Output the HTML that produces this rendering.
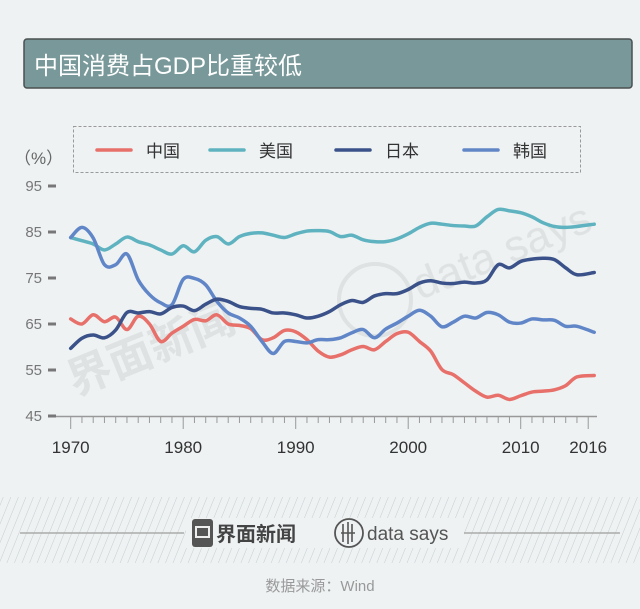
<!DOCTYPE html>
<html><head><meta charset="utf-8"><style>
body{margin:0;background:#eef2f3;}
svg{display:block;font-family:"Liberation Sans","Noto Sans CJK SC",sans-serif;}
</style></head><body>
<svg width="640" height="609" viewBox="0 0 640 609">
<defs>
<pattern id="hatch" width="7" height="8" patternUnits="userSpaceOnUse" patternTransform="rotate(22)">
<line x1="0" y1="0" x2="0" y2="8" stroke="#c6ccce" stroke-width="1"/>
</pattern>
</defs>
<rect width="640" height="609" fill="#eef2f3"/>
<rect x="24" y="39" width="608" height="49" rx="3" fill="#789899" stroke="#4a4f50" stroke-width="1.5"/>
<text x="34" y="74" font-size="24" fill="#fff">中国消费占GDP比重较低</text>
<text x="14" y="164" font-size="17" fill="#666">（%）</text>
<rect x="73.5" y="126.5" width="507" height="46" fill="none" stroke="#999" stroke-dasharray="3,2"/>
<g id="legend"></g>
<g opacity="0.75">
<text x="75" y="396" font-size="44" font-weight="bold" fill="#d8dcdd" transform="rotate(-22 75 396)">界面新闻</text>
<circle cx="375" cy="300" r="36" fill="none" stroke="#d8dcdd" stroke-width="4"/>
<text x="420" y="300" font-size="44" fill="#d8dcdd" transform="rotate(-22 420 300)">data says</text>
</g>
<g id="axes"></g>
<g id="lines"></g>
<rect x="0" y="497" width="640" height="66" fill="url(#hatch)"/>
<line x1="20" y1="533" x2="184" y2="533" stroke="#aaa" stroke-width="1.5"/>
<line x1="464" y1="533" x2="620" y2="533" stroke="#aaa" stroke-width="1.5"/>
<rect x="186" y="518" width="70" height="30" fill="#eef2f3"/>
<rect x="192" y="519" width="21" height="28" rx="3" fill="#555"/>
<rect x="196" y="527" width="13" height="10" fill="none" stroke="#eee" stroke-width="2"/>
<rect x="214" y="518" width="250" height="30" fill="#eef2f3"/>
<text x="216" y="541" font-size="20" font-weight="bold" fill="#444">界面新闻</text>
<circle cx="349" cy="533" r="14" fill="none" stroke="#555" stroke-width="1.8"/>
<path d="M343 524v18M348 522v22M352 524v18M341 533h14" stroke="#555" stroke-width="1.6"/>
<text x="367" y="540" font-size="19" fill="#555">data says</text>
<text x="320" y="591" font-size="15" fill="#999" text-anchor="middle">数据来源：Wind</text>
</svg>
<script>
const years=[];for(let y=1970;y<=2016;y++)years.push(y);
const seriesNames=["中国","美国","日本","韩国"];
const seriesColors=["#e8706a","#5fb3c0","#3a5289","#6186c8"];
const china=[66.1,65,67,65.5,66.5,63.8,66.7,65,61.2,63,64.5,66,65.7,67,65,64.7,64,61.6,62,63.6,63.3,61.6,59.1,57.8,58.3,59.4,60.1,59.4,61.2,62.9,63.2,61.2,59.1,55.1,54,52.2,50.4,49.1,49.5,48.6,49.4,50.2,50.4,50.7,51.6,53.5,53.8];
const usa=[83.8,83.1,82.4,81.1,82.4,83.9,82.9,82.2,81.1,80.2,82,80.7,83.2,84,82.4,84,84.7,84.8,84.3,83.8,84.6,85.2,85.3,85.1,84,84.3,83.3,82.9,82.9,83.5,84.6,86,86.9,86.7,86.4,86.3,86.3,88.3,89.9,89.6,89.2,88.3,87,86.2,86,86.2,86.7];
const japan=[59.7,61.9,62.6,62,63.7,67.5,67.4,67.7,67.2,68.6,68.9,67.9,69.3,70.4,69.9,68.8,68.4,68.2,67.4,67.4,67,66.3,66.7,67.7,69.2,70.1,69.7,71.1,71.6,71.6,72.5,73.9,74.4,73.9,73.8,74.1,73.9,74.6,77.9,77.2,78.6,79.1,79.3,79,77.2,75.7,76.2];
const korea=[83.8,86,83.7,77.9,77.9,80.2,74.6,71.4,69.6,69.2,74.7,74.9,73.5,69.9,67.4,66.3,64.5,61.2,58.6,61.2,61.2,60.9,61.6,61.6,62,63.1,63.8,62,63.9,65.2,66.7,68,66.7,64.4,65.4,66.7,66.3,67.5,67,65.4,65.2,66.1,65.9,65.8,64.5,64.5,63.2];
const yTicks=[45,55,65,75,85,95];
const xLabels=[1970,1980,1990,2000,2010,2016];
const NS="http://www.w3.org/2000/svg";
function X(yr){return 70.7+(yr-1970)*11.25;}
function Y(v){return 416-(v-45)*4.6;}
function mk(tag,attrs,parent){const e=document.createElementNS(NS,tag);for(const k in attrs)e.setAttribute(k,attrs[k]);parent.appendChild(e);return e;}
const axes=document.getElementById('axes');
mk('line',{x1:54,y1:416.5,x2:597,y2:416.5,stroke:'#999','stroke-width':1.5},axes);
yTicks.forEach(v=>{
 const r=mk('rect',{x:48,y:Y(v)-1.5,width:8,height:3,fill:'#777'},axes);
 
 
 const t=mk('text',{x:42,y:Y(v)+5,'font-size':15,fill:'#777','text-anchor':'end'},axes);
 t.textContent=v;
 
 
});
years.forEach(yr=>{
 const major=xLabels.includes(yr);
 const l=mk('line',{x1:X(yr),y1:416,x2:X(yr),y2:major?429:423,stroke:'#999','stroke-width':1},axes);
 
 
});
xLabels.forEach(yr=>{
 const t=mk('text',{x:X(yr),y:453,'font-size':17,fill:'#333','text-anchor':'middle'},axes);
 t.textContent=yr;
 
 
});
const all=[china,usa,japan,korea];
const lg=document.getElementById('legend');
const lx=[97,210,336,464];
seriesNames.forEach((n,i)=>{
 const l=mk('line',{x1:lx[i],y1:150,x2:lx[i]+34,y2:150,stroke:seriesColors[i],'stroke-width':3.5,'stroke-linecap':'round'},lg);
 
 
 const t=mk('text',{x:lx[i]+49,y:157,'font-size':17,fill:'#333'},lg);
 t.textContent=n;
 
 
});
const lines=document.getElementById('lines');
function smooth(pts){let d='M'+pts[0][0]+','+pts[0][1];
 for(let i=0;i<pts.length-1;i++){const p0=pts[i-1]||pts[i],p1=pts[i],p2=pts[i+1],p3=pts[i+2]||p2;
  const c1x=p1[0]+(p2[0]-p0[0])/6,c1y=p1[1]+(p2[1]-p0[1])/6,c2x=p2[0]-(p3[0]-p1[0])/6,c2y=p2[1]-(p3[1]-p1[1])/6;
  d+=` C${c1x},${c1y} ${c2x},${c2y} ${p2[0]},${p2[1]}`;}
 return d;}
const order=[0,1,3,2];
order.forEach(i=>{
 const pts=years.map((yr,j)=>[X(yr)+(j===years.length-1?6:0),Y(all[i][j])]);
 const p=mk('path',{d:smooth(pts),fill:'none',stroke:seriesColors[i],'stroke-width':3.5,'stroke-linejoin':'round','stroke-linecap':'round'},lines);
 
 
});
</script>
</body></html>
